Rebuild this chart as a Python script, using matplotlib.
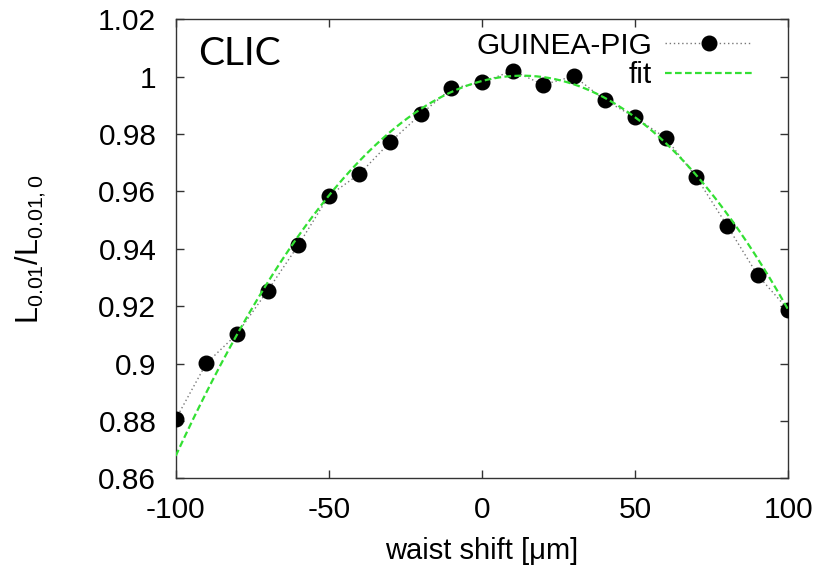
import matplotlib
matplotlib.use('Agg')
import matplotlib.pyplot as plt
import numpy as np

plt.rcParams['font.family'] = ['Liberation Sans', 'DejaVu Sans']
plt.rcParams['mathtext.fontset'] = 'custom'
plt.rcParams['mathtext.rm'] = 'Liberation Sans'
plt.rcParams['mathtext.it'] = 'Liberation Sans'
plt.rcParams['axes.unicode_minus'] = False

# GUINEA-PIG simulation points
waist_shift = [-100, -90, -80, -70, -60, -50, -40, -30, -20, -10, 0,
               10, 20, 30, 40, 50, 60, 70, 80, 90, 100]
lumi_ratio = [0.8806, 0.9001, 0.9103, 0.9254, 0.9412, 0.9585, 0.9661,
              0.9772, 0.9869, 0.9959, 0.9980, 1.0021, 0.9972, 1.0002,
              0.9919, 0.9858, 0.9786, 0.9649, 0.9481, 0.9308, 0.9187]

# fit coefficients (c0 + c1 x + c2 x^2 + c3 x^3)
fit_coef = [0.9985, 2.79e-4, -1.0525e-5, -2.47e-9]

xticks = [-100, -50, 0, 50, 100]
yticks = [0.86, 0.88, 0.9, 0.92, 0.94, 0.96, 0.98, 1.0, 1.02]
ytick_labels = ['0.86', '0.88', '0.9', '0.92', '0.94', '0.96', '0.98', '1', '1.02']

fig = plt.figure(figsize=(8.3, 5.71), dpi=100)
ax = fig.add_axes([0.2117, 0.1623, 0.7381, 0.8039])

xf = np.linspace(-100, 100, 400)
yf = np.polyval(fit_coef[::-1], xf)

ax.plot(waist_shift, lumi_ratio, color='#777777', linestyle=(0, (1, 2)), linewidth=1.0,
        marker='o', markersize=10.5, markerfacecolor='black', markeredgecolor='black',
        label='GUINEA-PIG', zorder=3)
ax.plot(xf, yf, color='#33e033', linestyle=(0, (3, 1.5)), linewidth=1.6, label='fit', zorder=4)

ax.set_xlim(-100, 100)
ax.set_ylim(0.86, 1.02)
ax.set_xticks(xticks)
ax.set_yticks(yticks)
ax.set_yticklabels(ytick_labels)
ax.tick_params(direction='in', length=6, width=1, top=True, right=True,
               labelsize=21.5, pad=14, color='#333333')
ax.tick_params(axis='x', pad=13)
for s in ax.spines.values():
    s.set_color('#333333')
    s.set_linewidth(1.0)

ax.set_xlabel('waist shift [μm]', fontsize=21, labelpad=9)
ax.set_ylabel(r'$\mathregular{L_{0.01}/L_{0.01,0}}$', fontsize=22)
ax.yaxis.set_label_coords(-0.208, 0.5)

ax.text(0.036, 0.9005, 'CLIC', transform=ax.transAxes, fontsize=28,
        family=['Lato', 'DejaVu Sans'], va='baseline', ha='left')

leg = ax.legend(loc='upper right', bbox_to_anchor=(0.97, 1.012), markerfirst=False,
                frameon=False, fontsize=21.5, handlelength=2.9, handletextpad=0.45,
                labelspacing=0.05, borderaxespad=0.2)

fig.savefig('out.png', dpi=100)
